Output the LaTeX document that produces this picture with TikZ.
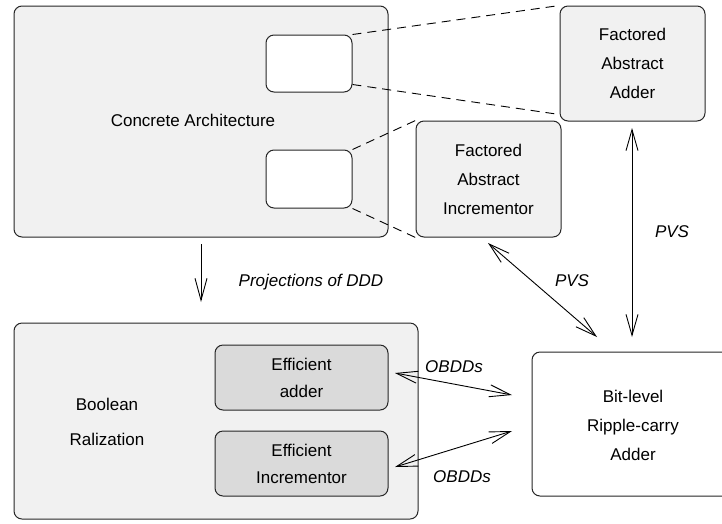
\documentclass[tikz,border=0pt]{standalone}
\usepackage{fontspec}
\setmainfont{Liberation Sans}
\usetikzlibrary{arrows.meta}
\definecolor{boxgray}{HTML}{F1F1F1}
\definecolor{effgray}{HTML}{DADADA}
\tikzset{
  box/.style={draw=black!85, line width=1pt, rounded corners=8pt, inner sep=0pt, align=center},
  txt/.style={font=\fontsize{17}{29}\selectfont, align=center, inner sep=0pt},
  lbl/.style={font=\fontsize{17}{20}\selectfont\itshape, inner sep=0pt},
  dashline/.style={line width=0.9pt, dash pattern=on 9pt off 6pt},
  dblarrow/.style={line width=0.9pt, {Straight Barb[length=21pt,width=12pt]}-{Straight Barb[length=21pt,width=12pt]}},
  onearrow/.style={line width=0.9pt, -{Straight Barb[length=22pt,width=12pt]}}
}
\begin{document}
\begin{tikzpicture}[x=1pt,y=-1pt]
\useasboundingbox (0,0) rectangle (722,523);
% concrete architecture
\node[box, fill=boxgray, minimum width=374pt, minimum height=231pt] (ca) at (201,121.5) {};
\node[txt] (catxt) at (193,120) {Concrete Architecture};
\node[box, fill=white, minimum width=86pt, minimum height=57pt] (ts) at (309,63.5) {};
\node[box, fill=white, minimum width=86pt, minimum height=58pt] (bs) at (309,179) {};
% factored boxes
\node[box, fill=boxgray, minimum width=145pt, minimum height=115pt, txt] (fa) at (632.5,63.5) {Factored\\Abstract\\Adder};
\node[box, fill=boxgray, minimum width=145pt, minimum height=116pt, txt] (fi) at (488.5,179) {Factored\\Abstract\\Incrementor};
% boolean
\node[box, fill=boxgray, minimum width=404pt, minimum height=196pt] (br) at (216,421) {};
\node[txt, font=\fontsize{17}{35}\selectfont] (brtxt) at (107,422) {Boolean\\Ralization};
\node[box, fill=effgray, minimum width=173pt, minimum height=65pt, txt, font=\fontsize{17}{27}\selectfont] (ea) at (301.5,377.5) {Efficient\\adder};
\node[box, fill=effgray, minimum width=173pt, minimum height=65pt, txt, font=\fontsize{17}{27}\selectfont] (ei) at (301.5,463.5) {Efficient\\Incrementor};
% bit-level
\node[box, fill=white, minimum width=206pt, minimum height=144pt] (bl) at (635,424) {};
\node[txt] (bltxt) at (633,425) {Bit-level\\Ripple-carry\\Adder};
% dashed lines
\draw[dashline] (ts.north east) -- (fa.north west);
\draw[dashline] ([yshift=8pt]ts.south east) -- ([yshift=7pt]fa.south west);
\draw[dashline] (bs.north east) -- (fi.north west);
\draw[dashline] (bs.south east) -- (fi.south west);
% arrows
\coordinate (d1) at (201,244);
\coordinate (d2) at (201,302);
\draw[onearrow] (d1) -- (d2);
\node[lbl] (proj) at (311,282) {Projections of DDD};
\coordinate (v1) at (632,128);
\coordinate (v2) at (632,337);
\draw[dblarrow] (v1) -- (v2);
\node[lbl] (pvs1) at (672,232) {PVS};
\coordinate (g1) at (488,243);
\coordinate (g2) at (597,337);
\draw[dblarrow] (g1) -- (g2);
\node[lbl] (pvs2) at (572,281) {PVS};
\coordinate (o1) at (395,373);
\coordinate (o2) at (512,395);
\draw[dblarrow] (o1) -- (o2);
\node[lbl] (ob1) at (454,367) {OBDDs};
\coordinate (o3) at (395,467);
\coordinate (o4) at (512,431);
\draw[dblarrow] (o3) -- (o4);
\node[lbl] (ob2) at (462,477) {OBDDs};
\end{tikzpicture}
\end{document}
